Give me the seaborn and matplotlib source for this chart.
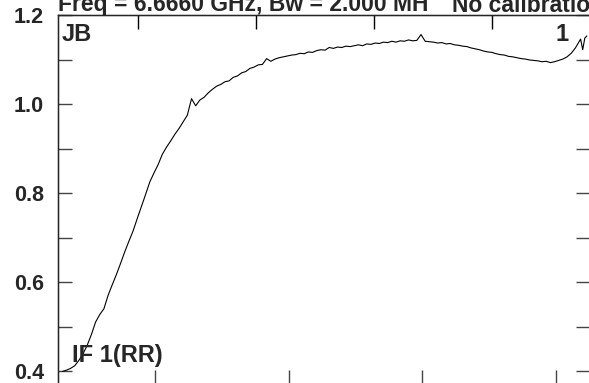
import numpy as np
import pandas as pd
import matplotlib
matplotlib.use("Agg")
import matplotlib.pyplot as plt
import seaborn as sns

# spectrum (channel, amplitude)
channels = [78, 86, 94, 102, 110, 118, 126, 134, 142, 150, 158, 166, 174, 182, 190, 198,
            206, 214, 222, 230, 238, 246, 254, 262, 270, 278, 286, 294, 302, 310, 318, 326,
            334, 342, 350, 358, 366, 374, 382, 390, 398, 406, 414, 422, 430, 438, 446, 454,
            462, 470, 478, 486, 494, 502, 510, 518, 526, 534, 542, 550, 558, 566, 574, 582,
            590, 598, 606, 614, 622, 630, 638, 646, 654, 662, 670, 678, 686, 694, 702, 710,
            718, 726, 734, 742, 750, 758, 766, 774, 782, 790, 798, 806, 814, 822, 830, 838,
            846, 854, 862, 870, 878, 886, 894, 902, 910, 918, 926, 934, 942, 950, 958, 966,
            974, 982, 990, 998, 1006, 1014, 1022, 1030, 1038, 1046, 1054, 1062, 1068, 1072,
            1076, 1080, 1084]
amplitude = [0.399, 0.402, 0.406, 0.412, 0.424, 0.439, 0.458, 0.482, 0.510, 0.527, 0.540, 0.570,
             0.594, 0.617, 0.642, 0.668, 0.692, 0.715, 0.743, 0.770, 0.797, 0.825, 0.845, 0.864,
             0.887, 0.903, 0.917, 0.932, 0.945, 0.960, 0.975, 1.012, 0.996, 1.009, 1.015, 1.025,
             1.033, 1.040, 1.044, 1.050, 1.052, 1.060, 1.063, 1.070, 1.073, 1.080, 1.083, 1.088,
             1.089, 1.102, 1.096, 1.101, 1.104, 1.106, 1.108, 1.110, 1.111, 1.114, 1.113, 1.117,
             1.116, 1.120, 1.122, 1.121, 1.127, 1.125, 1.128, 1.127, 1.130, 1.129, 1.131, 1.133,
             1.131, 1.135, 1.134, 1.137, 1.136, 1.139, 1.138, 1.141, 1.139, 1.142, 1.141, 1.144,
             1.142, 1.143, 1.156, 1.141, 1.140, 1.139, 1.137, 1.138, 1.135, 1.136, 1.133, 1.132,
             1.130, 1.129, 1.126, 1.124, 1.122, 1.119, 1.117, 1.116, 1.113, 1.111, 1.110, 1.107,
             1.106, 1.104, 1.102, 1.101, 1.099, 1.098, 1.097, 1.095, 1.096, 1.093, 1.095, 1.098,
             1.101, 1.106, 1.114, 1.126, 1.138, 1.146, 1.122, 1.148, 1.153]

channel_ticks = [256, 512, 768, 1024]
freq_ticks = [-0.6, -0.2, 0.2, 0.6]
y_major = [0.4, 0.6, 0.8, 1.0, 1.2]
y_minor = [0.5, 0.7, 0.9, 1.1]

title_left = "Freq = 6.6660 GHz, Bw = 2.000 MH"
title_right = "No calibration"

sns.set_style("white")
plt.rcParams["font.family"] = ["Liberation Sans", "DejaVu Sans"]
plt.rcParams["font.weight"] = "bold"

df = pd.DataFrame({"channel": channels, "amp": amplitude})

fig = plt.figure(figsize=(5.89, 3.83), dpi=100)
ax = fig.add_axes([58 / 589, -1 / 383, 532 / 589, 369 / 383])
sns.lineplot(data=df, x="channel", y="amp", color="black", linewidth=0.8, ax=ax)

ax.set_xlim(70, 1090)
ax.set_ylim(0.371, 1.2)
ax.set_xticks(channel_ticks)
ax.set_xticklabels([])
ax.set_yticks(y_major)
ax.set_yticks(y_minor, minor=True)
ax.set_xlabel("")
ax.set_ylabel("")
for s in ax.spines.values():
    s.set_color("black")
    s.set_linewidth(1)

ax.tick_params(axis="both", which="both", direction="in", length=10, width=1,
               color="#444444", left=True, right=True, bottom=True, top=False)
ax.tick_params(axis="y", labelsize=15.5, pad=10)
for lab in ax.get_yticklabels():
    lab.set_fontweight("bold")

top = ax.twiny()
top.set_xlim(-0.871, 0.932)
top.set_xticks(freq_ticks)
top.set_xticklabels([])
top.tick_params(axis="x", direction="in", length=10, width=1, color="black")

ax.text(4 / 532, 0.9485, "JB", transform=ax.transAxes, fontsize=17, fontweight="bold",
        ha="left", va="center")
ax.text(511 / 532, 0.9485, "1", transform=ax.transAxes, fontsize=17, fontweight="bold",
        ha="right", va="center")
ax.text(14 / 532, 0.076, "IF 1(RR)", transform=ax.transAxes, fontsize=17, fontweight="bold",
        ha="left", va="center")

fig.text(58 / 589, 1 - 11.5 / 383, title_left, fontsize=16.5, fontweight="bold",
         ha="left", va="baseline")
fig.text(452 / 589, 1 - 11.5 / 383, title_right, fontsize=16.5, fontweight="bold",
         ha="left", va="baseline")

fig.savefig("out.png", dpi=100)
